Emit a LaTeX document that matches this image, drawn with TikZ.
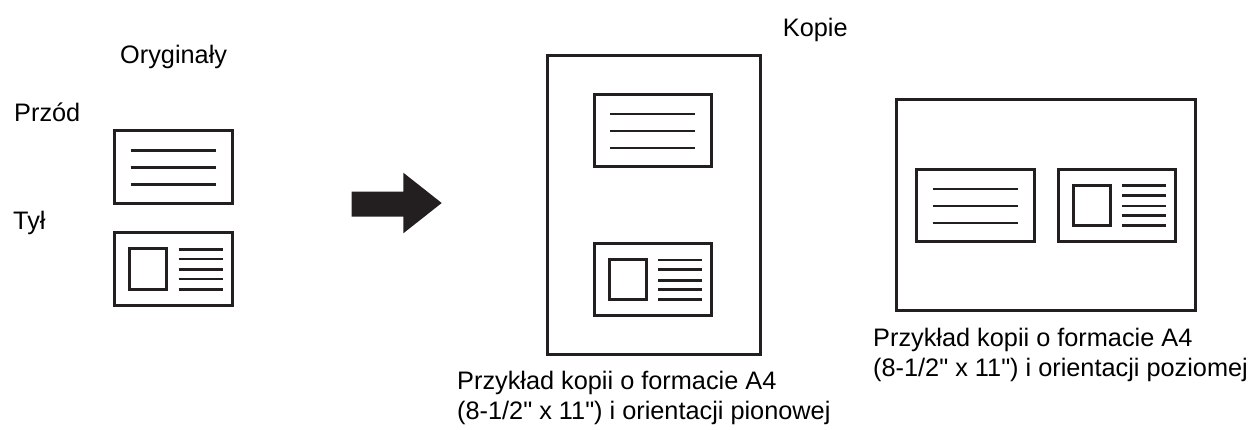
\documentclass[tikz,border=0pt]{standalone}
\usepackage{fontspec}
\newfontfamily\lsans{Liberation Sans}
\definecolor{ink}{RGB}{35,31,32}
\tikzset{
  box/.style={draw=ink,line width=3pt,fill=white},
  rule/.style={draw=ink,line width=2.8pt},
  label/.style={inner sep=0pt,anchor=base west,font=\lsans\fontsize{25.3pt}{30pt}\selectfont},
  frontcard/.pic={
    \draw[box] (0,0) rectangle (117.5,72.5);
    \foreach \yy in {20,37,54}{\draw[rule] (16,\yy) -- (101,\yy);}
  },
  backcard/.pic={
    \draw[box] (0,0) rectangle (117.5,72.5);
    \draw[box] (15,16) rectangle (52,56.5);
    \foreach \yy in {16.7,26.2,37,46.3,56.5}{\draw[rule] (64,\yy) -- (108,\yy);}
  }
}
\begin{document}
\begin{tikzpicture}[x=1pt,y=-1pt]
\useasboundingbox (0,0) rectangle (1255,429);
% labels
\node[label] (orig) at (120,63) {Oryginały};
\node[label] (front) at (14,121.7) {Przód};
\node[label] (back) at (13,229) {Tył};
\node[label] (copies) at (782.7,36) {Kopie};
\node[label] (capp1) at (457,389) {Przykład kopii o formacie A4};
\node[label] (capp2) at (457,419) {(8-1/2" x 11") i orientacji pionowej};
\node[label] (capl1) at (873,346) {Przykład kopii o formacie A4};
\node[label] (capl2) at (873,376) {(8-1/2" x 11") i orientacji poziomej};
% originals
\pic (oa) at (114.7,130.7) {frontcard};
\pic (ob) at (114.7,232.7) {backcard};
% arrow
\fill[ink] (351.7,191.7) -- (403.3,191.7) -- (403.3,172.7) -- (441.7,203)
  -- (403.3,233.3) -- (403.3,216.7) -- (351.7,216.7) -- cycle;
% portrait page
\draw[box] (547.3,55) rectangle (760,354.5);
\pic (pa) at (594.3,94) {frontcard};
\pic (pb) at (594.3,243.3) {backcard};
% landscape page
\draw[box] (896.7,99.3) rectangle (1195.7,310.7);
\pic (la) at (916.7,169) {frontcard};
\pic (lb) at (1058.3,169) {backcard};
\end{tikzpicture}
\end{document}
